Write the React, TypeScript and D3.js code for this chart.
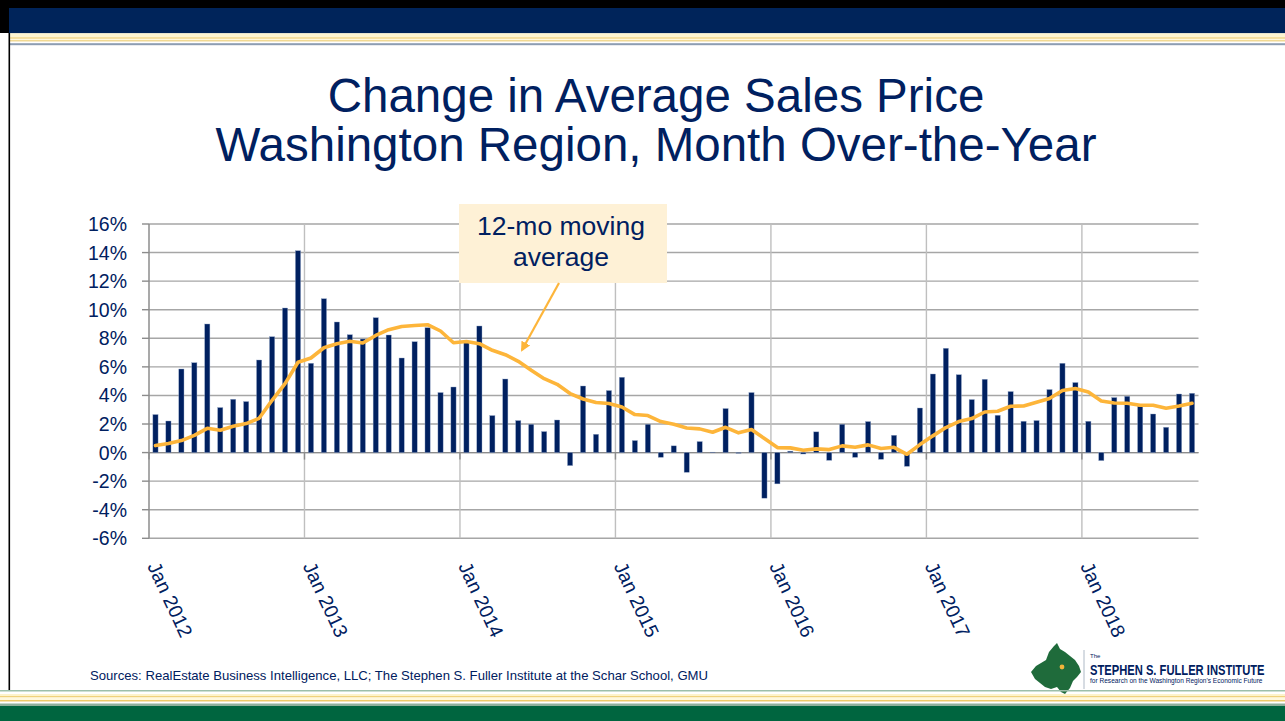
import React from "react";
import * as d3 from "d3";

// ---- Data ----
const monthlyChange: number[] = [
  // 2012
  2.66, 2.21, 5.85, 6.29, 9.0, 3.15, 3.73, 3.57, 6.48, 8.11, 10.12, 14.13,
  // 2013
  6.25, 10.77, 9.14, 8.25, 7.95, 9.44, 8.23, 6.62, 7.76, 8.74, 4.2, 4.59,
  // 2014
  7.69, 8.86, 2.59, 5.15, 2.24, 1.98, 1.47, 2.28, -0.91, 4.66, 1.28, 4.34,
  // 2015
  5.27, 0.84, 1.98, -0.33, 0.47, -1.38, 0.77, 0.03, 3.08, -0.05, 4.2, -3.19,
  // 2016
  -2.19, 0.1, -0.1, 1.45, -0.54, 1.98, -0.33, 2.17, -0.47, 1.21, -0.96, 3.12,
  // 2017
  5.5, 7.3, 5.45, 3.71, 5.13, 2.61, 4.27, 2.19, 2.24, 4.41, 6.25, 4.9,
  // 2018
  2.19, -0.56, 3.85, 3.94, 3.24, 2.7, 1.77, 4.1, 4.15,
];
const movingAverage: number[] = [
  // 2012
  0.49, 0.63, 0.84, 1.21, 1.7, 1.56, 1.84, 2.03, 2.4, 3.66, 4.83, 6.32,
  // 2013
  6.62, 7.34, 7.62, 7.79, 7.67, 8.2, 8.6, 8.83, 8.9, 8.95, 8.51, 7.69,
  // 2014
  7.78, 7.62, 7.16, 6.85, 6.39, 5.76, 5.17, 4.78, 4.13, 3.75, 3.5, 3.43,
  // 2015
  3.19, 2.66, 2.59, 2.17, 1.98, 1.72, 1.66, 1.42, 1.77, 1.38, 1.61, 0.98,
  // 2016
  0.35, 0.33, 0.16, 0.26, 0.21, 0.47, 0.37, 0.54, 0.28, 0.37, -0.12, 0.56,
  // 2017
  1.17, 1.75, 2.17, 2.38, 2.84, 2.89, 3.24, 3.26, 3.52, 3.78, 4.34, 4.48,
  // 2018
  4.24, 3.61, 3.47, 3.45, 3.31, 3.31, 3.1, 3.26, 3.45,
];
const yTicks: number[] = [-6, -4, -2, 0, 2, 4, 6, 8, 10, 12, 14, 16];
const yearLabels: string[] = [
  "Jan 2012", "Jan 2013", "Jan 2014", "Jan 2015", "Jan 2016", "Jan 2017", "Jan 2018",
];
const titleLines: string[] = [
  "Change in Average Sales Price",
  "Washington Region, Month Over-the-Year",
];
const calloutLines: string[] = ["12-mo moving", "average"];
const sourceText =
  "Sources: RealEstate Business Intelligence, LLC; The Stephen S. Fuller Institute at the Schar School, GMU";

const FONT = "'Liberation Sans', Arial, Helvetica, sans-serif";
const NAVY = "#002060";
const ORANGE = "#FDB53A";

export default function App() {
  const W = 1285;
  const H = 721;
  const left = 149;
  const right = 1198.5;
  const top = 224;
  const bottom = 538.3;

  const idx = monthlyChange.map((_, i) => i);
  const x = d3.scaleBand<number>().domain(idx).range([left, right]).paddingInner(0.6).paddingOuter(0.3);
  const y = d3.scaleLinear().domain([-6, 16]).range([bottom, top]);
  const cx = (i: number) => (x(i) as number) + x.bandwidth() / 2;
  const boundary = (i: number) => left + i * ((right - left) / monthlyChange.length);

  const line = d3
    .line<number>()
    .x((_, i) => cx(i))
    .y((d) => y(d));

  const yearIdx = yearLabels.map((_, k) => k * 12);

  return (
    <svg
      width={W}
      height={H}
      viewBox={`0 0 ${W} ${H}`}
      style={{ position: "absolute", left: 0, top: 0, display: "block", background: "#fff" }}
    >
      <defs>
        <marker id="arrowHead" viewBox="0 0 10 10" refX="8" refY="5" markerWidth="4.5" markerHeight="4.5" orient="auto">
          <path d="M0,0 L10,5 L0,10 z" fill={ORANGE} />
        </marker>
      </defs>
      <rect x={0} y={0} width={W} height={H} fill="#fff" />

      {/* Top banner */}
      <rect x={0} y={0} width={W} height={8} fill="#000" />
      <rect x={0} y={0} width={9} height={33} fill="#000" />
      <rect x={9} y={8} width={W - 9} height={25.3} fill="#00245A" />
      <rect x={9} y={33.3} width={W - 9} height={4} fill="#fdf5d2" />
      <rect x={9} y={37.3} width={W - 9} height={1.5} fill="#efd27c" />
      <rect x={9} y={38.8} width={W - 9} height={1.5} fill="#fff8de" />
      <rect x={9} y={40.3} width={W - 9} height={1.3} fill="#ecc96a" />
      <rect x={9} y={41.6} width={W - 9} height={1.6} fill="#ffffff" />
      <rect x={9} y={43.2} width={W - 9} height={2} fill="#8d9db2" />
      <rect x={8.5} y={33} width={1.6} height={658} fill="#000" />

      {/* Title */}
      {titleLines.map((t, i) => (
        <text
          key={t}
          x={656}
          y={112 + i * 49}
          textAnchor="middle"
          fontFamily={FONT}
          fontSize={47.5}
          fill={NAVY}
        >
          {t}
        </text>
      ))}

      {/* Horizontal gridlines */}
      {yTicks.map((t) => (
        <line key={"g" + t} x1={left} x2={right} y1={y(t)} y2={y(t)} stroke="#a6a6a6" strokeWidth={1.4} />
      ))}
      {/* Vertical gridlines at year boundaries */}
      {yearIdx.slice(1).map((i) => (
        <line key={"v" + i} x1={boundary(i)} x2={boundary(i)} y1={top} y2={bottom} stroke="#bfbfbf" strokeWidth={1.4} />
      ))}
      {/* Category axis ticks at zero line */}
      {yearIdx.map((i) => (
        <line key={"xt" + i} x1={boundary(i)} x2={boundary(i)} y1={y(0)} y2={y(0) + 7} stroke="#8c8c8c" strokeWidth={1.4} />
      ))}
      {/* Y axis */}
      <line x1={left} x2={left} y1={top} y2={bottom} stroke="#8c8c8c" strokeWidth={1.5} />
      {yTicks.map((t) => (
        <line key={"yt" + t} x1={left - 7} x2={left} y1={y(t)} y2={y(t)} stroke="#8c8c8c" strokeWidth={1.4} />
      ))}
      {yTicks.map((t) => (
        <text
          key={"yl" + t}
          x={127}
          y={y(t)}
          dy="0.36em"
          textAnchor="end"
          fontFamily={FONT}
          fontSize={19.5}
          fill={NAVY}
        >
          {t + "%"}
        </text>
      ))}
      {/* Zero line */}
      <line x1={left} x2={right} y1={y(0)} y2={y(0)} stroke="#8c8c8c" strokeWidth={1.4} />

      {/* Bars */}
      {monthlyChange.map((v, i) => (
        <rect
          key={"b" + i}
          x={x(i) as number}
          width={x.bandwidth()}
          y={Math.min(y(v), y(0))}
          height={Math.abs(y(v) - y(0))}
          fill={NAVY}
          stroke="#8ea2c4"
          strokeWidth={0.4}
        />
      ))}

      {/* Moving average line */}
      <path
        d={line(movingAverage) || ""}
        fill="none"
        stroke={ORANGE}
        strokeWidth={3.6}
        strokeLinejoin="round"
        strokeLinecap="round"
      />

      {/* X labels (rotated) */}
      {yearIdx.map((i, k) => (
        <text
          key={"xl" + k}
          transform={`translate(${boundary(i) - 2},${566}) rotate(65)`}
          fontFamily={FONT}
          fontSize={19.5}
          fill={NAVY}
        >
          {yearLabels[k]}
        </text>
      ))}

      {/* Callout */}
      <rect x={459} y={204} width={208} height={79} fill="#FEF1D6" />
      {calloutLines.map((t, i) => (
        <text key={t} x={561} y={235 + i * 31} textAnchor="middle" fontFamily={FONT} fontSize={26.5} fill={NAVY}>
          {t}
        </text>
      ))}
      <line x1={559} y1={283} x2={522} y2={350} stroke={ORANGE} strokeWidth={2.2} markerEnd="url(#arrowHead)" />

      {/* Source */}
      <text x={90} y={680} fontFamily={FONT} fontSize={13} fill={NAVY} textLength={618} lengthAdjust="spacingAndGlyphs">
        {sourceText}
      </text>

      {/* Logo */}
      <path
        d="M1031,672 L1036,666 L1041,663 L1046,660 L1049,652 L1054,646 L1057,643 L1060,649 L1065,652 L1070,656 L1075,660 L1079,666 L1081,672 L1077,677 L1073,681 L1070,688 L1065,694 L1061,692 L1057,687 L1051,689 L1045,687 L1040,683 L1035,679 Z"
        fill="#1f6b3b"
      />
      <circle cx={1062} cy={667} r={2.4} fill="#f2b43a" />
      <line x1={1084} x2={1084} y1={650} y2={689} stroke="#9aa7b8" strokeWidth={0.8} />
      <text x={1090} y={658} fontFamily={FONT} fontSize={6} fill={NAVY}>The</text>
      <text
        transform="translate(1090,675) scale(0.8,1)"
        fontFamily={FONT}
        fontSize={14}
        fontWeight="bold"
        fill={NAVY}
      >
        STEPHEN S. FULLER INSTITUTE
      </text>
      <text transform="translate(1090,682.5) scale(0.9,1)" fontFamily={FONT} fontSize={7.3} fill={NAVY}>
        for Research on the Washington Region's Economic Future
      </text>

      {/* Bottom banner */}
      <rect x={0} y={690} width={W} height={1.5} fill="#9cbfaa" />
      <rect x={0} y={694} width={W} height={2} fill="#fdf3cc" />
      <rect x={0} y={696} width={W} height={1.5} fill="#efd27c" />
      <rect x={0} y={697.5} width={W} height={2.5} fill="#fff8dc" />
      <rect x={0} y={700} width={W} height={1.5} fill="#ecc96a" />
      <rect x={0} y={703.5} width={W} height={2.5} fill="#8fb09c" />
      <rect x={0} y={706} width={W} height={15} fill="#00653F" />
    </svg>
  );
}
